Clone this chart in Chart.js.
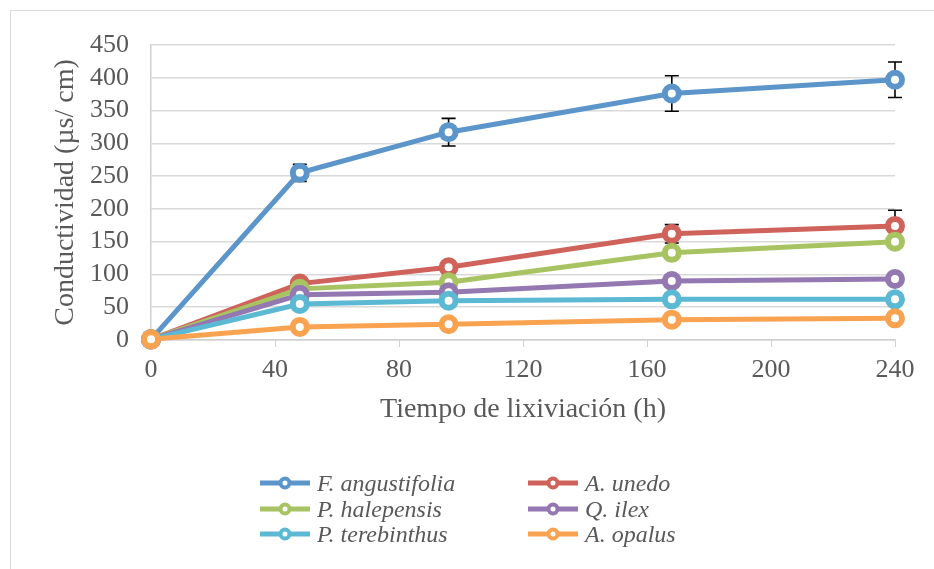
<!DOCTYPE html>
<html>
<head>
<meta charset="utf-8">
<script src="https://cdn.jsdelivr.net/npm/chart.js@4.4.1/dist/chart.umd.min.js"></script>
<style>
  html, body { margin: 0; padding: 0; background: #ffffff; }
  #wrap { position: relative; width: 934px; height: 569px; overflow: hidden; }
  #frame { position: absolute; left: 10px; top: 10px; width: 960px; height: 600px;
           border: 1px solid #D9D9D9; box-sizing: border-box; }
  #chart { position: absolute; left: 0; top: 0; }
  #legend { position: absolute; left: 0; top: 0; width: 934px; height: 569px; pointer-events: none;
            font-family: "Liberation Serif", serif; font-style: italic; font-size: 24px; color: #595959; }
  .item { position: absolute; height: 26px; display: flex; align-items: center; white-space: nowrap; }
  .item svg { display: block; margin-right: 7px; }
</style>
</head>
<body>
<div id="wrap">
  <div id="frame"></div>
  <canvas id="chart" width="934" height="569"></canvas>
  <div id="legend"></div>
</div>
<script>
// Leaching time (hours)
const hours = [0, 48, 96, 168, 240];

// Conductivity per species (µs/cm)
const fAngustifolia = [1, 255, 317, 376, 397];
const aUnedo        = [1, 86, 111, 162, 174];
const pHalepensis   = [1, 78, 88, 133, 150];
const qIlex         = [1, 69, 73, 90, 93];
const pTerebinthus  = [1, 55, 60, 62, 62];
const aOpalus       = [1, 20, 24, 31, 33];

// Standard errors (same order as values)
const fAngustifoliaErr = [0, 13, 21, 27, 27];
const aUnedoErr        = [0, 5, 6, 14, 24];
const pHalepensisErr   = [0, 3, 4, 5, 5];
const qIlexErr         = [0, 3, 3, 4, 4];
const pTerebinthusErr  = [0, 2, 3, 3, 3];
const aOpalusErr       = [0, 2, 2, 3, 3];

const speciesNames = ['F. angustifolia', 'A. unedo', 'P. halepensis', 'Q. ilex', 'P. terebinthus', 'A. opalus'];
const speciesValues = [fAngustifolia, aUnedo, pHalepensis, qIlex, pTerebinthus, aOpalus];
const speciesErrors = [fAngustifoliaErr, aUnedoErr, pHalepensisErr, qIlexErr, pTerebinthusErr, aOpalusErr];
const speciesColors = ['#5B95CA', '#CF625A', '#A8C462', '#9478B1', '#5BB9D4', '#F9A351'];

const yTicks = [0, 50, 100, 150, 200, 250, 300, 350, 400, 450];
const xTicks = [0, 40, 80, 120, 160, 200, 240];

const datasets = speciesNames.map((name, i) => ({
  label: name,
  data: hours.map((h, k) => ({ x: h, y: speciesValues[i][k] })),
  errors: speciesErrors[i],
  borderColor: speciesColors[i],
  backgroundColor: '#ffffff',
  borderWidth: 5,
  pointRadius: 7,
  pointBorderWidth: 6,
  pointBackgroundColor: '#ffffff',
  pointBorderColor: speciesColors[i],
  tension: 0,
  clip: false,
  order: -i
}));

// Vertical error bars with caps, drawn beneath the series
const errorBars = {
  id: 'errorBars',
  beforeDatasetsDraw(chart) {
    const { ctx, scales: { x, y } } = chart;
    ctx.save();
    ctx.strokeStyle = '#000000';
    ctx.lineWidth = 1.6;
    chart.data.datasets.forEach(ds => {
      ds.data.forEach((p, k) => {
        const e = ds.errors[k];
        if (!e) return;
        const px = x.getPixelForValue(p.x);
        const top = y.getPixelForValue(p.y + e);
        const bot = y.getPixelForValue(p.y - e);
        ctx.beginPath();
        ctx.moveTo(px, top); ctx.lineTo(px, bot);
        ctx.moveTo(px - 7, top); ctx.lineTo(px + 7, top);
        ctx.moveTo(px - 7, bot); ctx.lineTo(px + 7, bot);
        ctx.stroke();
      });
    });
    ctx.restore();
  }
};

const chart = new Chart(document.getElementById('chart'), {
  type: 'line',
  data: { datasets },
  plugins: [errorBars],
  options: {
    responsive: false,
    animation: false,
    layout: { padding: { left: 0, right: 39, top: 45, bottom: 0 } },
    plugins: { legend: { display: false }, tooltip: { enabled: false } },
    scales: {
      x: {
        type: 'linear',
        min: 0, max: 240,
        afterBuildTicks(scale) { scale.ticks = xTicks.map(v => ({ value: v })); },
        afterFit(scale) { scale.height = 229; },
        ticks: {
          autoSkip: false,
          padding: 8,
          color: '#595959',
          font: { family: 'Liberation Serif', size: 26 }
        },
        grid: { drawOnChartArea: false, drawTicks: true, tickLength: 7, color: '#D0D0D0', lineWidth: 1 },
        border: { display: true, color: '#D0D0D0', width: 1.5 },
        title: {
          display: true,
          text: 'Tiempo de lixiviación (h)',
          color: '#595959',
          font: { family: 'Liberation Serif', size: 28 },
          padding: { top: 0, bottom: 143 }
        }
      },
      y: {
        min: 0, max: 450,
        afterBuildTicks(scale) { scale.ticks = yTicks.map(v => ({ value: v })); },
        afterFit(scale) { scale.width = 151; },
        ticks: {
          autoSkip: false,
          padding: 22,
          color: '#595959',
          font: { family: 'Liberation Serif', size: 26 }
        },
        grid: { drawTicks: false, color: '#D9D9D9', lineWidth: 1.5 },
        border: { display: true, color: '#D0D0D0', width: 1.5 },
        title: {
          display: true,
          text: 'Conductividad (µs/ cm)',
          color: '#595959',
          font: { family: 'Liberation Serif', size: 28 },
          padding: { top: 49, bottom: 0 }
        }
      }
    }
  }
});

// Two-column legend built from the chart's datasets
const legendEl = document.getElementById('legend');
const colLeft = [260, 528];
const rowCenter = [483, 509, 534];
chart.data.datasets.forEach((ds, i) => {
  const item = document.createElement('div');
  item.className = 'item';
  item.style.left = colLeft[i % 2] + 'px';
  item.style.top = (rowCenter[Math.floor(i / 2)] - 13) + 'px';
  const c = ds.borderColor;
  item.innerHTML =
    '<svg width="50" height="20" viewBox="0 0 50 20">' +
    '<line x1="0" y1="10" x2="50" y2="10" stroke="' + c + '" stroke-width="5"/>' +
    '<circle cx="25" cy="10" r="4.5" fill="#ffffff" stroke="' + c + '" stroke-width="4"/>' +
    '</svg><span>' + ds.label + '</span>';
  legendEl.appendChild(item);
});
</script>
</body>
</html>
